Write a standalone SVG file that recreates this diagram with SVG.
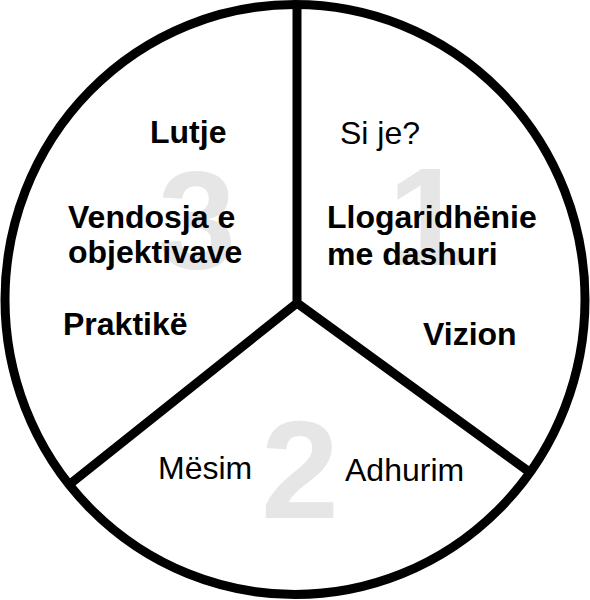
<svg xmlns="http://www.w3.org/2000/svg" width="590" height="600" viewBox="0 0 590 600">
  <style>
    .num { font-family: "Liberation Sans", Arial, sans-serif; font-weight: bold; font-size: 140px; fill: #e6e6e6; }
    .b { font-family: "Liberation Sans", Arial, sans-serif; font-weight: bold; font-size: 32px; fill: #000; }
    .r { font-family: "Liberation Sans", Arial, sans-serif; font-size: 32px; fill: #000; }
    .ln { stroke: #000; stroke-width: 9; fill: none; stroke-linejoin: miter; }
  </style>
  <rect width="590" height="600" fill="#fff"/>
  <g id="numbers">
    <text class="num" x="158" y="268">3</text>
    <text class="num" x="388" y="265">1</text>
    <text class="num" x="261" y="518">2</text>
  </g>
  <g id="connectors">
    <ellipse class="ln" cx="295" cy="299.5" rx="290" ry="295"/>
    <path class="ln" d="M297 4 L297 303 L70 484 M297 303 L528 471"/>
  </g>
  <g id="sector3">
    <text class="b" x="150" y="143">Lutje</text>
    <text class="b" x="68" y="228">Vendosja e</text>
    <text class="b" x="68" y="263">objektivave</text>
    <text class="b" x="63" y="335">Praktikë</text>
  </g>
  <g id="sector1">
    <text class="r" x="340" y="144">Si je?</text>
    <text class="b" x="327" y="228">Llogaridhënie</text>
    <text class="b" x="327" y="265">me dashuri</text>
    <text class="b" x="423" y="345">Vizion</text>
  </g>
  <g id="sector2">
    <text class="r" x="158" y="479">Mësim</text>
    <text class="r" x="345" y="481">Adhurim</text>
  </g>
</svg>
